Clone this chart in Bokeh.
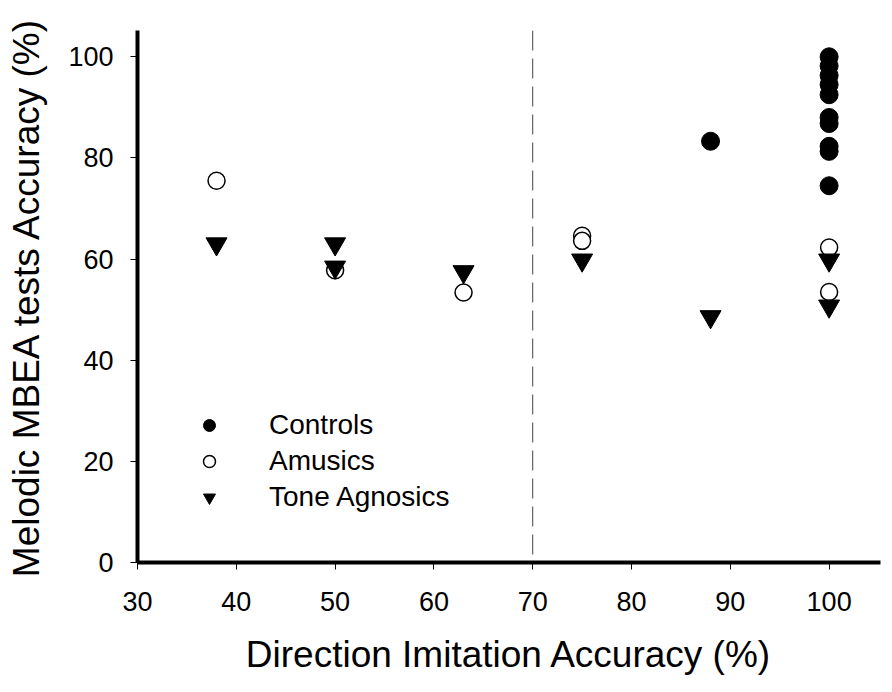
from bokeh.plotting import figure
from bokeh.models import Span, Legend, LegendItem, FixedTicker
from bokeh.embed import file_html
from bokeh.resources import INLINE

controls_x = [88, 100, 100, 100, 100, 100, 100, 100, 100, 100, 100]
controls_y = [83.3, 100, 98.2, 96.3, 94.5, 92.5, 88.0, 86.8, 82.3, 81.3, 74.5]

amusics_x = [38, 50, 63, 75, 75, 100, 100]
amusics_y = [75.5, 57.8, 53.4, 64.6, 63.6, 62.3, 53.5]

agnosics_x = [38, 50, 50, 63, 75, 88, 100, 100]
agnosics_y = [63.0, 63.0, 58.4, 57.5, 59.8, 48.6, 59.8, 50.7]

x_ticks = [30, 40, 50, 60, 70, 80, 90, 100]
y_ticks = [0, 20, 40, 60, 80, 100]
threshold = 70

FONT = "Liberation Sans"

p = figure(width=892, height=692, output_backend="svg", toolbar_location=None,
           x_range=(30, 105.2), y_range=(0, 105.2),
           min_border_left=137, min_border_right=12, min_border_top=30,
           min_border_bottom=130)
p.outline_line_color = None
p.xgrid.visible = False
p.ygrid.visible = False
p.background_fill_color = "white"

for ax in (p.xaxis[0], p.yaxis[0]):
    ax.axis_line_width = 4
    ax.axis_line_color = "black"
    ax.major_tick_line_width = 1
    ax.major_tick_in = 0
    ax.major_tick_out = 7
    ax.minor_tick_line_color = None
    ax.major_label_text_font = FONT
    ax.major_label_text_font_size = "27px"
    ax.major_label_text_color = "black"
    ax.axis_label_text_font = FONT
    ax.axis_label_text_font_size = "37px"
    ax.axis_label_text_font_style = "normal"
    ax.axis_label_text_color = "black"

p.xaxis.ticker = FixedTicker(ticks=x_ticks)
p.yaxis.ticker = FixedTicker(ticks=y_ticks)
p.xaxis.axis_label = "Direction Imitation Accuracy (%)"
p.yaxis.axis_label = "Melodic MBEA tests Accuracy (%)"
p.xaxis.major_label_standoff = 22
p.yaxis.major_label_standoff = 17
p.xaxis.axis_label_standoff = 20
p.yaxis.axis_label_standoff = 18

p.add_layout(Span(location=threshold, dimension="height", line_color="#444444",
                  line_width=1, line_dash="20 8", line_dash_offset=0))

r_c = p.scatter(controls_x, controls_y, marker="circle", size=18,
                fill_color="black", line_color="black")
r_a = p.scatter(amusics_x, amusics_y, marker="circle", size=17,
                fill_color="white", line_color="black", line_width=1.5)
r_t = p.scatter(agnosics_x, agnosics_y, marker="inverted_triangle", size=21,
                fill_color="black", line_color="black")

legend = Legend(items=[LegendItem(label="Controls", renderers=[r_c]),
                       LegendItem(label="Amusics", renderers=[r_a]),
                       LegendItem(label="Tone Agnosics", renderers=[r_t])],
                location=(57, 47), orientation="vertical")
legend.border_line_color = None
legend.background_fill_alpha = 0
legend.padding = 0
legend.margin = 0
legend.spacing = 0
legend.glyph_width = 30
legend.glyph_height = 36
legend.label_height = 36
legend.label_standoff = 45
legend.label_text_font = FONT
legend.label_text_font_size = "28px"
legend.label_text_color = "black"
p.add_layout(legend)

open("out.html", "w").write(file_html(p, INLINE))
